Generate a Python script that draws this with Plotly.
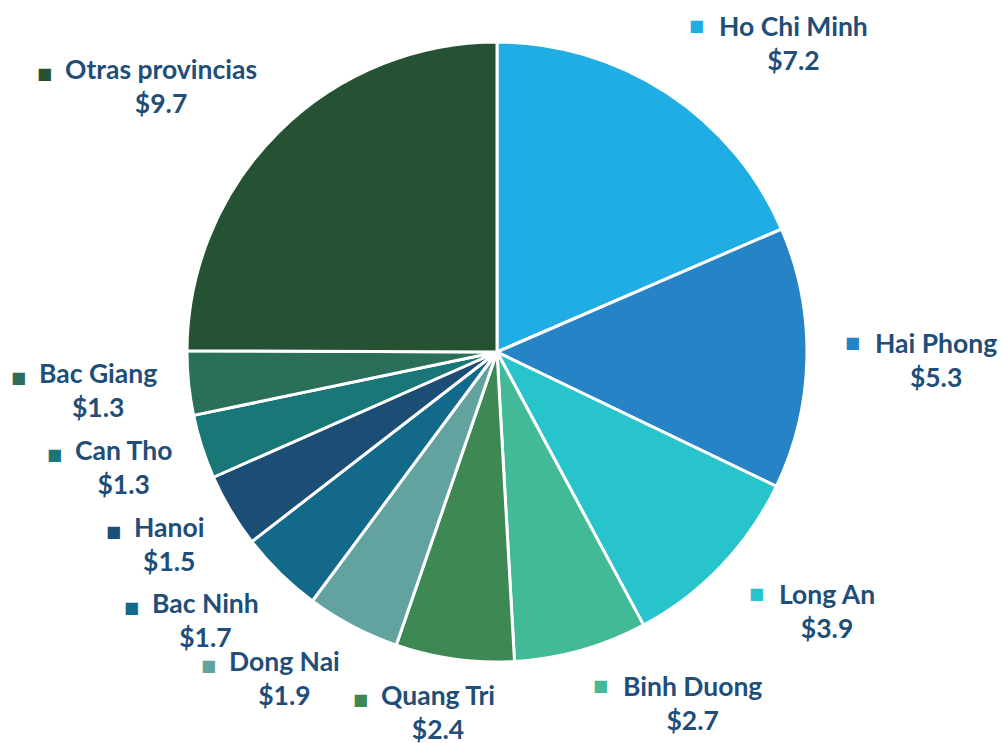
import math
import plotly.graph_objects as go

# ---- data ----
labels = ["Ho Chi Minh", "Hai Phong", "Long An", "Binh Duong", "Quang Tri",
          "Dong Nai", "Bac Ninh", "Hanoi", "Can Tho", "Bac Giang", "Otras provincias"]
values = [7.2, 5.3, 3.9, 2.7, 2.4, 1.9, 1.7, 1.5, 1.3, 1.3, 9.7]
colors = ["#1FADE4", "#2683C6", "#27C4CC", "#42BA97", "#3E8853",
          "#62A39F", "#13698A", "#1C4E75", "#1A7777", "#296F5A", "#245233"]

# ---- layout constants ----
W, H = 1005, 743
PAGE_OFF = 8                      # default page margin of the html body
cx, cy, R = 497 - PAGE_OFF, 352 - PAGE_OFF, 310
TEXT_COLOR = "#1F4E79"
FS = 26.5
FONT = dict(family="Lato", size=FS, color=TEXT_COLOR, weight="bold")
GAPX = 36         # horizontal distance of label block from pie edge
GAPY = 19         # vertical distance of label block from pie edge
PAD = 34          # compensation for the invisible balancing square on right-anchored labels
KEY_TEXT_GAP = 30 # from key square to label text (left-anchored labels)
NBSP = "\u00a0"
SQ_STYLE = "font-family:DejaVu Sans; font-size:16px"
CLEAR = "rgba(0,0,0,0)"

fig = go.Figure(go.Pie(
    labels=labels,
    values=values,
    sort=False,
    direction="clockwise",
    rotation=0,
    marker=dict(colors=colors, line=dict(color="white", width=3)),
    textinfo="none",
    hoverinfo="label+value",
    showlegend=False,
    domain=dict(x=[(cx - R) / W, (cx + R) / W], y=[1 - (cy + R) / H, 1 - (cy - R) / H]),
))

total = sum(values)
cum = 0.0
annotations = []
h1 = 1.3 * FS            # one text line
block_h = 2 * h1         # name line + value line
for lab, val, col in zip(labels, values, colors):
    mid = (cum + val / 2) / total * 2 * math.pi
    cum += val
    s, c = math.sin(mid), math.cos(mid)
    px = cx + (R + GAPX) * s
    py = cy - (R + GAPY) * c
    f = min(1.0, max(0.0, (c + 0.75) / 1.5))   # share of the label block above the anchor
    top = py - block_h * f
    name_y = top + h1 / 2
    block_mid = top + block_h / 2
    value_txt = f"${val:.1f}"
    if s > 0.15:
        # key square as its own mark, text to its right
        annotations.append(dict(text="■", xref="paper", yref="paper", x=px / W, y=1 - name_y / H,
                                xanchor="left", yanchor="middle", showarrow=False,
                                font=dict(family="DejaVu Sans", size=16, color=col)))
        text = f"{lab}<br>{value_txt}"
        xa, xsh = "left", KEY_TEXT_GAP
    else:
        sq = f"<span style='color:{col}; {SQ_STYLE}'>■</span>"
        inv = f"<span style='color:{CLEAR}; {SQ_STYLE}'>■</span>"
        text = f"{sq}{NBSP * 2}{lab}{NBSP * 2}{inv}<br>{value_txt}"
        if s < -0.15:
            xa, xsh = "right", PAD
        else:
            xa, xsh = "center", -12
    annotations.append(dict(text=text, xref="paper", yref="paper", x=px / W, y=1 - block_mid / H,
                            xanchor=xa, xshift=xsh, yanchor="middle", showarrow=False,
                            font=FONT, align="center"))

fig.update_layout(
    width=W, height=H,
    margin=dict(l=0, r=0, t=0, b=0),
    paper_bgcolor="white",
    plot_bgcolor="white",
    annotations=annotations,
)

fig.write_html("out.html")
